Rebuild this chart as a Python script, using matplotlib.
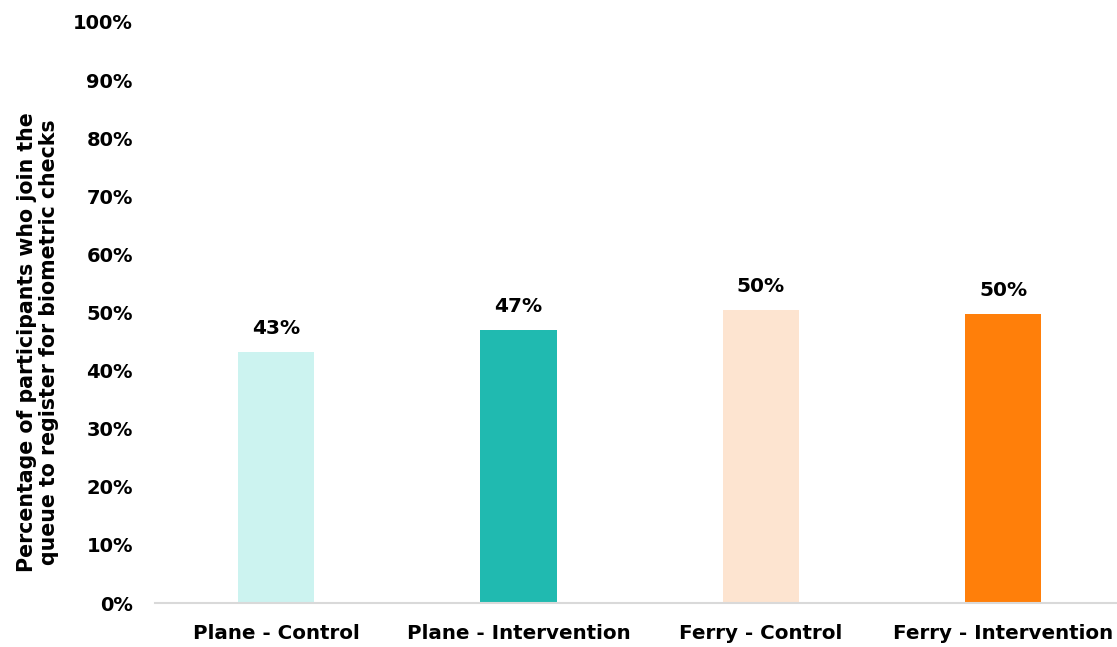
import numpy as np
import matplotlib.pyplot as plt

categories = ['Plane - Control', 'Plane - Intervention', 'Ferry - Control', 'Ferry - Intervention']
values = [43.2, 47.0, 50.4, 49.8]
labels = ['43%', '47%', '50%', '50%']
colors = ['#CCF3F0', '#20BAB0', '#FDE4D0', '#FF7F0A']
yticks = np.arange(0, 101, 10)

plt.rcParams['font.family'] = ['DejaVu Sans']
plt.rcParams['font.weight'] = 'bold'

fig = plt.figure(figsize=(11.17, 6.47), dpi=100)
ax = fig.add_axes([0.1388, 0.068, 0.8612, 0.898])

x = np.arange(len(categories))
bars = ax.bar(x, values, width=0.314, color=colors)

for b, lab in zip(bars, labels):
    ax.annotate(lab, (b.get_x() + b.get_width() / 2, b.get_height()),
                xytext=(0, 10), textcoords='offset points',
                ha='center', va='bottom', fontsize=14.5, fontweight='bold')

ax.set_xlim(-0.5, 3.47)
ax.set_ylim(0, 100)
ax.set_xticks(x)
ax.set_xticklabels(categories, fontsize=14.3, fontweight='bold')
ax.set_yticks(yticks)
ax.set_yticklabels([f'{t}%' for t in yticks], fontsize=14, fontweight='bold')
ax.tick_params(axis='both', length=0)
ax.tick_params(axis='y', pad=16)
ax.tick_params(axis='x', pad=15)

for s in ['top', 'right', 'left']:
    ax.spines[s].set_visible(False)
ax.spines['bottom'].set_color('#D9D9D9')
ax.spines['bottom'].set_linewidth(1.5)

fig.text(0.034, 0.471, 'Percentage of participants who join the\nqueue to register for biometric checks',
         rotation=90, ha='center', va='center', fontsize=14.8, fontweight='bold',
         linespacing=1.15)

fig.savefig('out.png', dpi=100)
